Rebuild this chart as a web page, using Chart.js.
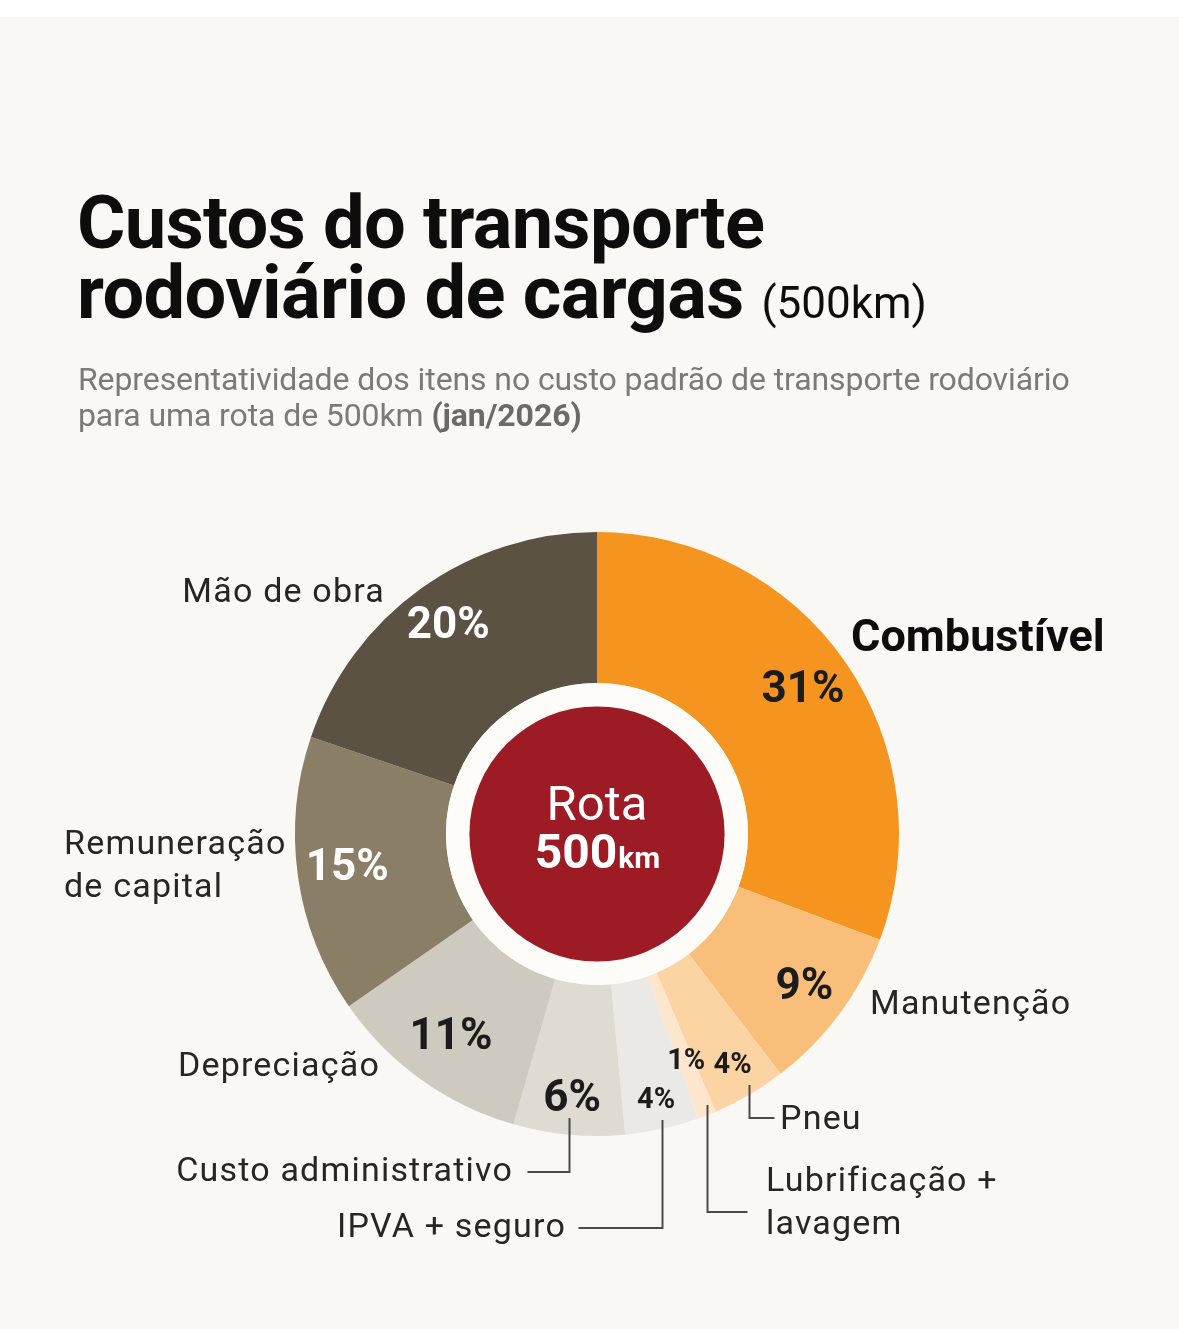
<!DOCTYPE html>
<html lang="pt-BR">
<head>
<meta charset="utf-8">
<title>Custos do transporte rodoviário de cargas</title>
<script src="https://cdn.jsdelivr.net/npm/chart.js@4.4.1/dist/chart.umd.min.js"></script>
<style>
  html, body { margin: 0; padding: 0; }
  body {
    width: 1179px; height: 1329px; overflow: hidden; position: relative;
    background: #f9f8f4; font-family: Roboto, "Noto Sans", sans-serif;
  }
  .topband { position: absolute; left: 0; top: 0; width: 1179px; height: 17px; background: #fff; }
  #chart { position: absolute; left: 0; top: 0; }
  .title {
    position: absolute; left: 77px; top: 188px; margin: 0;
    font-size: 74px; line-height: 70px; font-weight: 700; color: #0d0d0d;
    letter-spacing: -0.6px; white-space: nowrap;
  }
  .title small { font-size: 44px; font-weight: 400; letter-spacing: 0; }
  .subtitle {
    position: absolute; left: 78px; top: 361px; margin: 0;
    font-size: 32px; line-height: 36px; color: #7a7a7a; letter-spacing: -0.1px; white-space: nowrap;
  }
  .subtitle b { color: #6a6a6a; }
</style>
</head>
<body>
<div class="topband"></div>
<canvas id="chart" width="1179" height="1329"></canvas>
<h1 class="title">Custos do transporte<br>rodoviário de cargas <small>(500km)</small></h1>
<p class="subtitle">Representatividade dos itens no custo padrão de transporte rodoviário<br>para uma rota de 500km <b>(jan/2026)</b></p>
<script>
// data
const categories = ['Combustível', 'Manutenção', 'Pneu', ['Lubrificação +', 'lavagem'], 'IPVA + seguro',
    'Custo administrativo', 'Depreciação', ['Remuneração', 'de capital'], 'Mão de obra'];
const shares = [31, 9, 4, 1, 4, 6, 11, 15, 20];
const shareLabels = ['31%', '9%', '4%', '1%', '4%', '6%', '11%', '15%', '20%'];

// styles
const sliceColors = ['#f5951f', '#f9bf7a', '#fcd4a4', '#fde6cb', '#ebe9e5', '#dfdbd3', '#cfcabf', '#8a7e67', '#5b5244'];
// radius of each % label as a fraction of the outer radius, font size, colour
const pctStyle = [
    [0.83, 44, '#1c1c1c'], [0.855, 44, '#1c1c1c'], [0.89, 29, '#1c1c1c'], [0.81, 29, '#1c1c1c'],
    [0.905, 29, '#1c1c1c'], [0.885, 44, '#1c1c1c'], [0.83, 44, '#1c1c1c'], [0.835, 44, '#ffffff'],
    [0.845, 44, '#ffffff']
];
// category label: offset from centre, alignment, bold
const nameStyle = [
    [254, -194, 'left', true], [273, 171, 'left'], [183, 286, 'left'], [169, 348, 'left'],
    [-31, 394, 'right'], [-84, 338, 'right'], [-217, 233, 'right'], [-533, 11, 'left'], [-212, -241, 'right']
];
// leader lines: slice index, start y, end y (from centre), horizontal run
const leaders = [[2, 251, 284, 25], [3, 271, 378, 40], [4, 286, 394, -84], [5, 284, 338, -42]];

const labelsPlugin = {
    id: 'labels',
    afterDatasetsDraw(chart) {
        const ctx = chart.ctx;
        const arcs = chart.getDatasetMeta(0).data;
        const cx = arcs[0].x, cy = arcs[0].y;
        const outer = arcs[0].outerRadius, inner = arcs[0].innerRadius;
        ctx.save();

        // centre badge
        ctx.fillStyle = '#fdfcf9';
        ctx.beginPath(); ctx.arc(cx, cy, inner, 0, Math.PI * 2); ctx.fill();
        ctx.fillStyle = '#9d1b25';
        ctx.beginPath(); ctx.arc(cx, cy, inner * 0.845, 0, Math.PI * 2); ctx.fill();
        ctx.fillStyle = '#ffffff';
        ctx.textBaseline = 'alphabetic';
        ctx.textAlign = 'center';
        ctx.font = '400 49px Roboto';
        ctx.fillText('Rota', cx, cy - 14);
        ctx.font = '700 48px Roboto';
        const w500 = ctx.measureText('500').width;
        ctx.font = '700 30px Roboto';
        const wkm = ctx.measureText('km').width;
        const x0 = cx - (w500 + wkm) / 2;
        ctx.textAlign = 'left';
        ctx.font = '700 48px Roboto';
        ctx.fillText('500', x0, cy + 34);
        ctx.font = '700 30px Roboto';
        ctx.fillText('km', x0 + w500 + 1, cy + 34);

        // percentages inside the slices
        ctx.textAlign = 'center';
        ctx.textBaseline = 'middle';
        arcs.forEach(function(arc, i) {
            const mid = (arc.startAngle + arc.endAngle) / 2;
            const r = outer * pctStyle[i][0];
            ctx.font = '700 ' + pctStyle[i][1] + 'px Roboto';
            ctx.fillStyle = pctStyle[i][2];
            ctx.fillText(shareLabels[i], cx + r * Math.cos(mid), cy + r * Math.sin(mid));
        });

        // leader lines
        ctx.strokeStyle = '#4a4a4a';
        ctx.lineWidth = 2;
        leaders.forEach(function(l) {
            const arc = arcs[l[0]];
            const mid = (arc.startAngle + arc.endAngle) / 2;
            const lx = Math.round(cx + outer * Math.cos(mid)) + 0.5;
            ctx.beginPath();
            ctx.moveTo(lx, cy + l[1]);
            ctx.lineTo(lx, cy + l[2]);
            ctx.lineTo(lx + l[3], cy + l[2]);
            ctx.stroke();
        });

        // category names
        categories.forEach(function(name, i) {
            const s = nameStyle[i];
            const lines = Array.isArray(name) ? name : [name];
            ctx.textAlign = s[2];
            ctx.fillStyle = s[3] ? '#0d0d0d' : '#262626';
            ctx.font = s[3] ? '700 45px Roboto' : '400 34px Roboto';
            ctx.letterSpacing = s[3] ? '0px' : '1.2px';
            lines.forEach(function(line, j) {
                ctx.fillText(line, cx + s[0], cy + s[1] + j * 43);
            });
        });
        ctx.restore();
    }
};

new Chart(document.getElementById('chart'), {
    type: 'doughnut',
    data: {
        labels: categories,
        datasets: [{
            data: shares,
            backgroundColor: sliceColors,
            borderWidth: 0
        }]
    },
    options: {
        responsive: false,
        animation: false,
        cutout: '50%',
        layout: { padding: { left: 295, top: 532, right: 280, bottom: 193 } },
        plugins: { legend: { display: false }, tooltip: { enabled: false } }
    },
    plugins: [labelsPlugin]
});
</script>
</body>
</html>
